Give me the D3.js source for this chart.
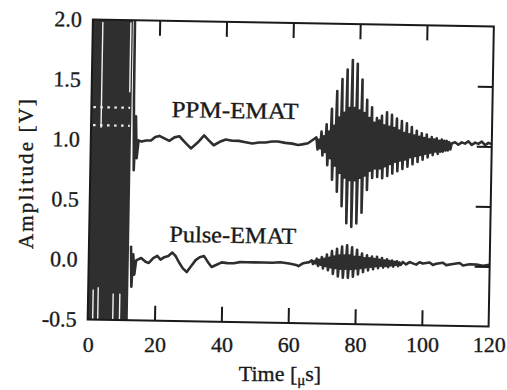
<!DOCTYPE html>
<html>
<head>
<meta charset="utf-8">
<script src="https://cdn.jsdelivr.net/npm/d3@7"></script>
<style>
  html, body { margin: 0; padding: 0; background: #fff; }
  svg { display: block; }
  text { stroke: #1a1a1a; stroke-width: 0.35px; }
</style>
</head>
<body>
<svg id="chart" width="507" height="390" font-family="'Liberation Serif', 'Times New Roman', serif"></svg>
<script>
// ---------- data ----------
const xTicks = [0, 20, 40, 60, 80, 100, 120];
const yTicks = [-0.5, 0.0, 0.5, 1.0, 1.5, 2.0];
const yTickLabels = ["-0.5", "0.0", "0.5", "1.0", "1.5", "2.0"];
const seriesNames = ["PPM-EMAT", "Pulse-EMAT"];

// saturated region of both signals at the start (µs)
const saturationRange = [0, 12.0];

// PPM-EMAT trace
const ppmLeadT = [12.6, 12.7, 13.0, 13.4, 13.8, 14.3, 15.2, 16.5, 18.0, 19.3, 20.5, 22.0, 23.5, 25.0, 26.5, 28.2, 30.0, 32.0, 33.9, 35.3, 36.8, 38.6, 40.4, 42.3, 44.3, 46.3, 48.4, 50.3, 52.3, 54.2, 56.0, 58.2, 60.3, 62.0, 63.3, 65.0, 66.5];
const ppmLeadV = [2.0, 1.35, 0.75, 1.2, 0.85, 1.0, 0.99, 1.0, 1.0, 1.03, 1.04, 1.02, 1.0, 1.03, 1.04, 0.99, 0.94, 0.99, 1.05, 1.01, 0.97, 1.0, 1.02, 1.01, 1.01, 1.0, 0.99, 1.0, 1.0, 1.01, 1.01, 1.0, 0.995, 0.985, 0.99, 1.0, 1.03];
const ppmBurstT = [67.5, 68.25, 69, 69.75, 70.5, 71.25, 72, 72.75, 73.5, 74.25, 75, 75.75, 76.5, 77.25, 78, 78.75, 79.5, 80.25, 81, 81.75, 82.5, 83.25, 84, 84.75, 85.5, 86.25, 87, 87.75, 88.5, 89.25, 90, 90.75, 91.5, 92.25, 93, 93.75, 94.5, 95.25, 96, 96.75, 97.5, 98.25, 99, 99.75, 100.5, 101.25, 102, 102.75, 103.5, 104.25, 105, 105.75, 106.5, 107.25];
const ppmBurstHi = [1.05, 1.03, 1.10, 1.06, 1.16, 1.10, 1.29, 1.15, 1.44, 1.22, 1.54, 1.26, 1.62, 1.30, 1.70, 1.30, 1.67, 1.28, 1.54, 1.26, 1.37, 1.22, 1.31, 1.18, 1.22, 1.20, 1.24, 1.16, 1.27, 1.15, 1.25, 1.14, 1.22, 1.12, 1.20, 1.10, 1.18, 1.09, 1.15, 1.08, 1.12, 1.07, 1.10, 1.06, 1.09, 1.05, 1.07, 1.05, 1.06, 1.04, 1.05, 1.04, 1.04, 1.03];
const ppmBurstLo = [0.95, 0.96, 0.90, 0.93, 0.82, 0.88, 0.70, 0.82, 0.60, 0.76, 0.48, 0.72, 0.34, 0.70, 0.31, 0.70, 0.34, 0.72, 0.43, 0.74, 0.62, 0.78, 0.72, 0.80, 0.73, 0.80, 0.72, 0.82, 0.74, 0.84, 0.76, 0.86, 0.78, 0.87, 0.80, 0.88, 0.82, 0.90, 0.84, 0.91, 0.86, 0.92, 0.88, 0.93, 0.90, 0.94, 0.92, 0.95, 0.93, 0.95, 0.95, 0.96, 0.96, 0.97];
const ppmTailT = [108, 109, 110, 111, 112, 113, 114, 115, 116, 117, 118, 119, 120];
const ppmTailV = [1.02, 1.03, 1.01, 1.03, 1.02, 1.04, 1.01, 1.03, 1.02, 1.04, 1.01, 1.03, 1.02];

// Pulse-EMAT trace
const pulseLeadT = [12.6, 12.9, 13.3, 13.7, 14.2, 15.7, 17.0, 18.0, 19.3, 20.5, 21.5, 22.6, 23.8, 25.0, 26.0, 27.0, 28.2, 29.4, 30.7, 32.0, 33.2, 34.5, 35.7, 36.8, 38.3, 39.8, 41.5, 43.4, 45.3, 47.2, 49.5, 52.3, 55.0, 57.3, 60.0, 62.1, 62.8, 64.2, 66.0];
const pulseLeadV = [0.12, -0.22, 0.05, -0.12, 0.0, 0.02, -0.01, -0.02, 0.02, 0.04, 0.01, 0.03, 0.04, 0.07, 0.04, -0.01, -0.06, -0.09, -0.04, 0.01, 0.035, 0.045, -0.005, -0.045, -0.025, -0.005, -0.01, -0.01, 0.0, 0.0, 0.0, 0.0, 0.0, 0.005, -0.005, -0.015, -0.025, 0.0, 0.01];
const pulseBurstT = [66.75, 67.5, 68.25, 69, 69.75, 70.5, 71.25, 72, 72.75, 73.5, 74.25, 75, 75.75, 76.5, 77.25, 78, 78.75, 79.5, 80.25, 81, 81.75, 82.5, 83.25, 84, 84.75, 85.5, 86.25, 87, 87.75, 88.5, 89.25, 90, 90.75, 91.5, 92.25, 93];
const pulseBurstHi = [0.025, 0.02, 0.04, 0.03, 0.055, 0.04, 0.075, 0.05, 0.105, 0.06, 0.125, 0.07, 0.145, 0.07, 0.155, 0.07, 0.14, 0.06, 0.12, 0.06, 0.09, 0.05, 0.075, 0.05, 0.065, 0.045, 0.065, 0.04, 0.055, 0.035, 0.045, 0.03, 0.035, 0.025, 0.03, 0.02];
const pulseBurstLo = [-0.005, 0.0, -0.02, -0.01, -0.04, -0.02, -0.055, -0.03, -0.085, -0.035, -0.105, -0.04, -0.115, -0.04, -0.115, -0.04, -0.105, -0.035, -0.085, -0.03, -0.065, -0.025, -0.05, -0.02, -0.04, -0.015, -0.03, -0.01, -0.025, -0.01, -0.02, -0.005, -0.015, 0.0, -0.01, 0.0];
const pulseTailT = [94, 95, 96, 97, 98, 99, 100, 102, 103, 104, 106, 107, 109, 111, 112, 114, 116, 118, 120];
const pulseTailV = [0.025, 0.005, 0.025, 0.015, 0.005, 0.025, 0.015, 0.025, 0.005, 0.015, 0.025, 0.005, 0.015, 0.025, 0.005, 0.015, 0.015, 0.005, 0.015];

// white print artefacts inside the saturated block: [t, vFrom, vTo]
const satGapsV = [[3.0, 1.98, 1.1], [11.4, 1.98, 1.4], [1.5, -0.5, -0.25], [3.0, -0.5, -0.23], [7.5, -0.5, -0.28], [9.5, -0.5, -0.28]];
// dotted white rows: [v, tFrom, tTo]
const satGapsH = [[1.27, 0.6, 11.6], [1.12, 0.6, 11.6]];

// ---------- drawing ----------
const svg = d3.select("#chart");
const ink = "#1a1a1a";
const x = d3.scaleLinear().domain([0, 120]).range([90.25, 491.25]);
const y = d3.scaleLinear().domain([-0.5, 2.0]).range([323, 23]);
const cx = 290.75, cy = 173;

const g = svg.append("g").attr("transform", `rotate(1, ${cx}, ${cy})`);

g.append("clipPath").attr("id", "plotclip").append("rect")
  .attr("x", x(0)).attr("y", y(2)).attr("width", x(120) - x(0)).attr("height", y(-0.5) - y(2));

const plot = g.append("g").attr("clip-path", "url(#plotclip)");

// saturated block
plot.append("rect")
  .attr("x", x(saturationRange[0])).attr("y", y(2))
  .attr("width", x(saturationRange[1]) - x(saturationRange[0]))
  .attr("height", y(-0.5) - y(2))
  .attr("fill", "#2f2f2f");

plot.selectAll("line.gapv").data(satGapsV).join("line")
  .attr("class", "gapv")
  .attr("x1", d => x(d[0])).attr("x2", d => x(d[0]))
  .attr("y1", d => y(d[1])).attr("y2", d => y(d[2]))
  .attr("stroke", "#f2f2f2").attr("stroke-width", 1.4);
plot.selectAll("line.gaph").data(satGapsH).join("line")
  .attr("class", "gaph")
  .attr("x1", d => x(d[1])).attr("x2", d => x(d[2]))
  .attr("y1", d => y(d[0])).attr("y2", d => y(d[0]))
  .attr("stroke", "#f2f2f2").attr("stroke-width", 2.2)
  .attr("stroke-dasharray", "2.5,4.5");

// build trace points
function buildTrace(leadT, leadV, bT, bHi, bLo, tailT, tailV) {
  const pts = leadT.map((t, i) => [t, leadV[i]]);
  bT.forEach((t, i) => { pts.push([t, bHi[i]]); pts.push([t + 0.375, bLo[i]]); });
  tailT.forEach((t, i) => pts.push([t, tailV[i]]));
  return pts;
}
const traces = [
  buildTrace(ppmLeadT, ppmLeadV, ppmBurstT, ppmBurstHi, ppmBurstLo, ppmTailT, ppmTailV),
  buildTrace(pulseLeadT, pulseLeadV, pulseBurstT, pulseBurstHi, pulseBurstLo, pulseTailT, pulseTailV)
];
const line = d3.line().x(d => x(d[0])).y(d => y(d[1]));
plot.selectAll("path.trace").data(traces).join("path")
  .attr("class", "trace")
  .attr("d", line)
  .attr("fill", "none")
  .attr("stroke", "#2e2e2e")
  .attr("stroke-width", 2.6)
  .attr("stroke-linejoin", "round");

// frame
g.append("rect")
  .attr("x", x(0)).attr("y", y(2)).attr("width", x(120) - x(0)).attr("height", y(-0.5) - y(2))
  .attr("fill", "none").attr("stroke", ink).attr("stroke-width", 2);

// inside ticks
const innerX = xTicks.filter(t => t > 0 && t < 120);
const innerY = yTicks.filter(v => v > -0.5 && v < 2.0);
function styleAxis(a) {
  a.select(".domain").remove();
  a.selectAll("line").attr("stroke", ink).attr("stroke-width", 2);
}
g.append("g").attr("transform", `translate(0,${y(-0.5)})`)
  .call(d3.axisBottom(x).tickValues(innerX).tickSize(-15).tickFormat(""))
  .call(styleAxis);
g.append("g").attr("transform", `translate(0,${y(2)})`)
  .call(d3.axisTop(x).tickValues(innerX).tickSize(-15).tickFormat(""))
  .call(styleAxis);
g.append("g").attr("transform", `translate(${x(120)},0)`)
  .call(d3.axisRight(y).tickValues(innerY).tickSize(-15).tickFormat(""))
  .call(styleAxis);

// y tick labels
g.selectAll("text.ylab").data(yTicks).join("text")
  .attr("class", "ylab")
  .attr("x", x(0) - 11)
  .attr("y", v => y(v) + 7.5)
  .attr("text-anchor", "end")
  .attr("font-size", 22)
  .attr("fill", ink)
  .text((v, i) => yTickLabels[i]);

// series labels
const labelPos = [[24, 1.2], [24, 0.16]];
g.selectAll("text.series").data(seriesNames).join("text")
  .attr("class", "series")
  .attr("x", (d, i) => x(labelPos[i][0]))
  .attr("y", (d, i) => y(labelPos[i][1]))
  .attr("font-size", 23)
  .attr("fill", ink)
  .attr("textLength", 127)
  .attr("lengthAdjust", "spacingAndGlyphs")
  .text(d => d);

// x tick labels
svg.selectAll("text.xlab").data(xTicks).join("text")
  .attr("class", "xlab")
  .attr("x", t => x(t) - 2)
  .attr("y", 352)
  .attr("text-anchor", "middle")
  .attr("font-size", 22)
  .attr("fill", ink)
  .text(t => t);

// axis titles
const xt = svg.append("text")
  .attr("x", 280).attr("y", 381)
  .attr("text-anchor", "middle")
  .attr("font-size", 22)
  .attr("fill", ink);
xt.append("tspan").text("Time [");
xt.append("tspan").attr("font-size", 15).attr("dy", 4).text("μ");
xt.append("tspan").attr("dy", -4).text("s]");

svg.append("text")
  .attr("transform", "translate(33,174) rotate(-90)")
  .attr("text-anchor", "middle")
  .attr("font-size", 21)
  .attr("fill", ink)
  .attr("textLength", 150)
  .attr("lengthAdjust", "spacing")
  .text("Amplitude [V]");
</script>
</body>
</html>
